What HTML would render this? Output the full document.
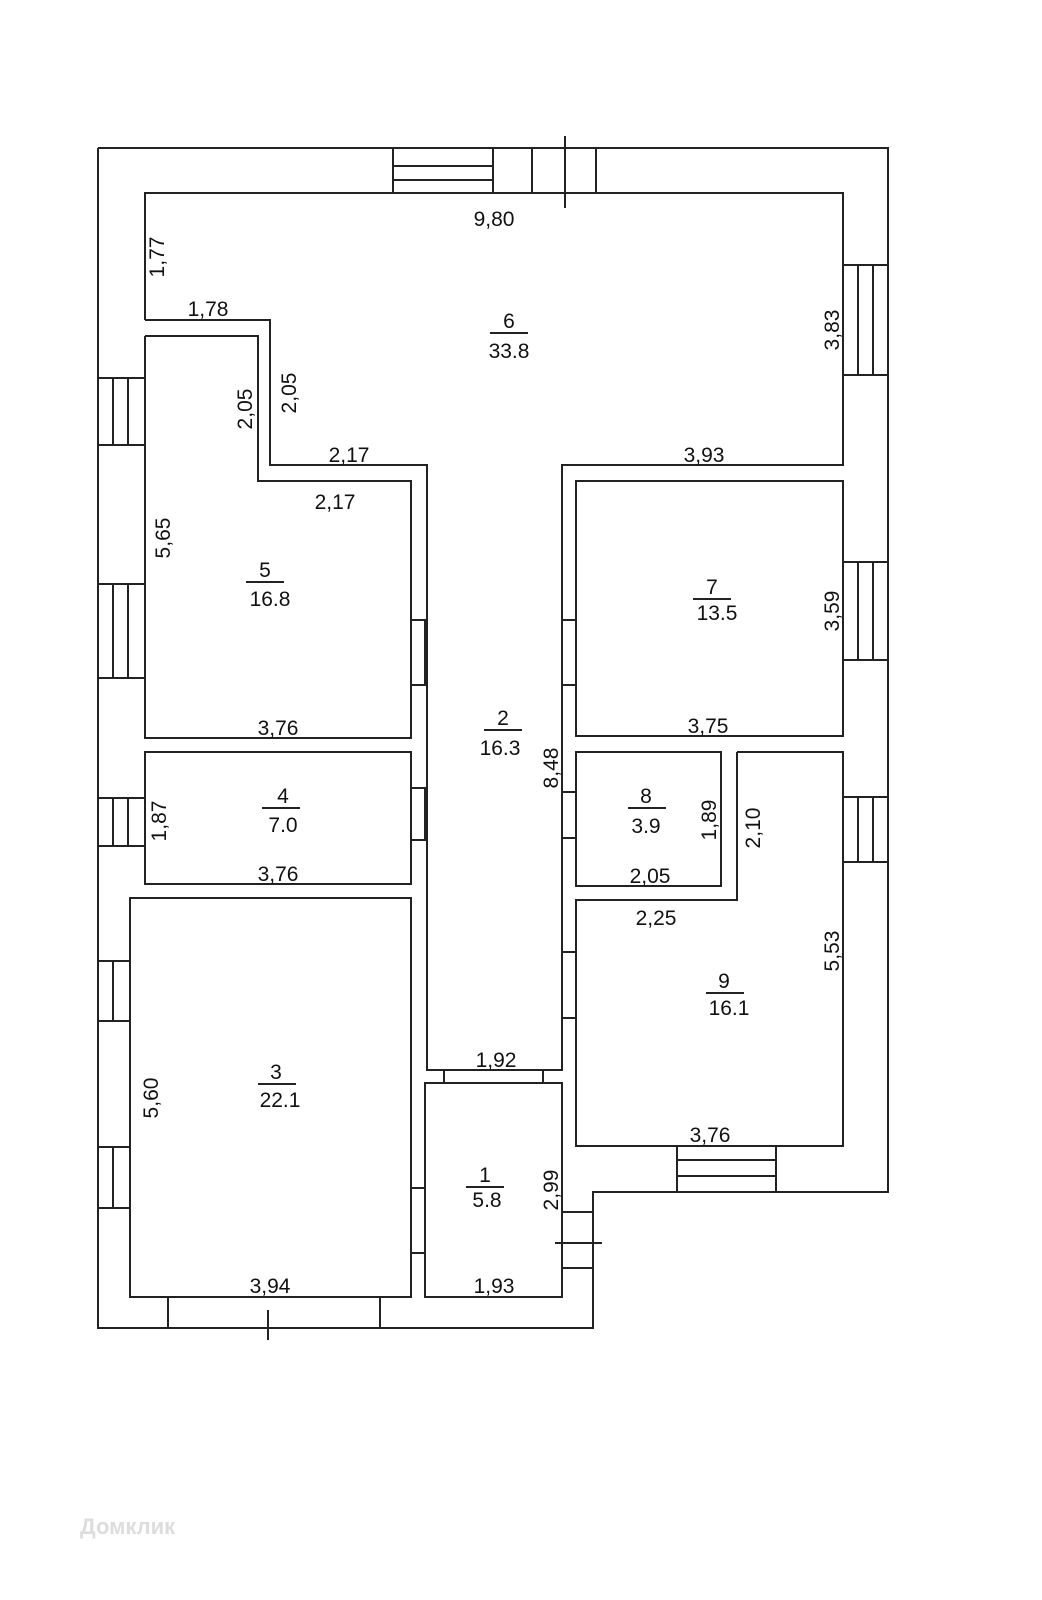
<!DOCTYPE html>
<html><head><meta charset="utf-8"><style>
html,body{margin:0;padding:0;background:#fff;}
svg{display:block;}
text{font-family:"Liberation Sans",Arial,sans-serif;font-size:21px;fill:#111;}
</style></head><body>
<svg width="1042" height="1600" viewBox="0 0 1042 1600" xmlns="http://www.w3.org/2000/svg">
<g fill="none" stroke="#222" stroke-width="2">
<polyline points="98,148 888,148 888,1192 593,1192 593,1328 98,1328 98,148"/>
<polyline points="145,320 145,193 843,193 843,465 562,465 562,1070 427,1070 427,465 270,465 270,320 145,320"/>
<polyline points="145,336 258,336 258,481 411,481 411,738 145,738 145,336"/>
<rect x="145" y="752" width="266" height="132"/>
<rect x="130" y="898" width="281" height="399"/>
<rect x="425" y="1083" width="137" height="214"/>
<rect x="576" y="481" width="267" height="255"/>
<rect x="576" y="752" width="145" height="134"/>
<polyline points="737,752 843,752 843,1146 576,1146 576,900 737,900 737,752"/>
<rect x="393" y="148" width="100" height="45"/>
<line x1="393" y1="166" x2="493" y2="166"/><line x1="393" y1="180" x2="493" y2="180"/>
<rect x="532" y="148" width="64" height="45"/>
<line x1="565" y1="136" x2="565" y2="208"/>
<rect x="843" y="265" width="45" height="110"/><line x1="858" y1="265" x2="858" y2="375"/><line x1="873" y1="265" x2="873" y2="375"/>
<rect x="843" y="562" width="45" height="98"/><line x1="858" y1="562" x2="858" y2="660"/><line x1="873" y1="562" x2="873" y2="660"/>
<rect x="843" y="797" width="45" height="65"/><line x1="858" y1="797" x2="858" y2="862"/><line x1="873" y1="797" x2="873" y2="862"/>
<rect x="98" y="378" width="47" height="67"/><line x1="113" y1="378" x2="113" y2="445"/><line x1="128" y1="378" x2="128" y2="445"/>
<rect x="98" y="584" width="47" height="94"/><line x1="113" y1="584" x2="113" y2="678"/><line x1="128" y1="584" x2="128" y2="678"/>
<rect x="98" y="798" width="47" height="48"/><line x1="113" y1="798" x2="113" y2="846"/><line x1="128" y1="798" x2="128" y2="846"/>
<rect x="98" y="961" width="32" height="60"/><line x1="113" y1="961" x2="113" y2="1021"/>
<rect x="98" y="1147" width="32" height="61"/><line x1="113" y1="1147" x2="113" y2="1208"/>
<rect x="168" y="1297" width="212" height="31"/>
<line x1="268" y1="1310" x2="268" y2="1340"/>
<rect x="677" y="1146" width="99" height="46"/><line x1="677" y1="1160" x2="776" y2="1160"/><line x1="677" y1="1176" x2="776" y2="1176"/>
<rect x="562" y="1212" width="31" height="56"/><line x1="555" y1="1243" x2="602" y2="1243"/>
<rect x="444" y="1070" width="99" height="13"/>
<rect x="411" y="620" width="14" height="65"/>
<rect x="411" y="788" width="14" height="52"/>
<rect x="411" y="1188" width="14" height="65"/>
<rect x="562" y="620" width="14" height="65"/>
<rect x="562" y="792" width="14" height="46"/>
<rect x="562" y="952" width="14" height="66"/>
<line x1="490" y1="333" x2="528" y2="333"/>
<line x1="246" y1="582" x2="284" y2="582"/>
<line x1="484" y1="730" x2="522" y2="730"/>
<line x1="693" y1="599" x2="731" y2="599"/>
<line x1="262" y1="808" x2="300" y2="808"/>
<line x1="628" y1="808" x2="666" y2="808"/>
<line x1="706" y1="993" x2="744" y2="993"/>
<line x1="258" y1="1084" x2="296" y2="1084"/>
<line x1="466" y1="1187" x2="504" y2="1187"/>
</g>
<g text-anchor="middle">
<text x="494" y="226">9,80</text>
<text x="208" y="316">1,78</text>
<text x="349" y="462">2,17</text>
<text x="335" y="509">2,17</text>
<text x="704" y="462">3,93</text>
<text x="509" y="328">6</text><text x="509" y="358">33.8</text>
<text x="265" y="577">5</text><text x="270" y="606">16.8</text>
<text x="278" y="735">3,76</text>
<text x="503" y="725">2</text><text x="500" y="755">16.3</text>
<text x="712" y="594">7</text><text x="717" y="620">13.5</text>
<text x="708" y="733">3,75</text>
<text x="283" y="803">4</text><text x="283" y="832">7.0</text>
<text x="278" y="881">3,76</text>
<text x="646" y="803">8</text><text x="646" y="833">3.9</text>
<text x="650" y="883">2,05</text>
<text x="656" y="925">2,25</text>
<text x="724" y="988">9</text><text x="729" y="1015">16.1</text>
<text x="710" y="1142">3,76</text>
<text x="276" y="1079">3</text><text x="280" y="1107">22.1</text>
<text x="270" y="1293">3,94</text>
<text x="496" y="1067">1,92</text>
<text x="485" y="1182">1</text><text x="487" y="1207">5.8</text>
<text x="494" y="1293">1,93</text>
<text transform="translate(164,257) rotate(-90)">1,77</text>
<text transform="translate(252,409) rotate(-90)">2,05</text>
<text transform="translate(296,393) rotate(-90)">2,05</text>
<text transform="translate(170,538) rotate(-90)">5,65</text>
<text transform="translate(166,821) rotate(-90)">1,87</text>
<text transform="translate(158,1098) rotate(-90)">5,60</text>
<text transform="translate(839,330) rotate(-90)">3,83</text>
<text transform="translate(839,611) rotate(-90)">3,59</text>
<text transform="translate(558,768) rotate(-90)">8,48</text>
<text transform="translate(716,820) rotate(-90)">1,89</text>
<text transform="translate(760,828) rotate(-90)">2,10</text>
<text transform="translate(839,951) rotate(-90)">5,53</text>
<text transform="translate(558,1190) rotate(-90)">2,99</text>
</g>
<text x="80" y="1534" style="font-size:22px;fill:#ddd;font-weight:bold">Домклик</text>
</svg>
</body></html>
